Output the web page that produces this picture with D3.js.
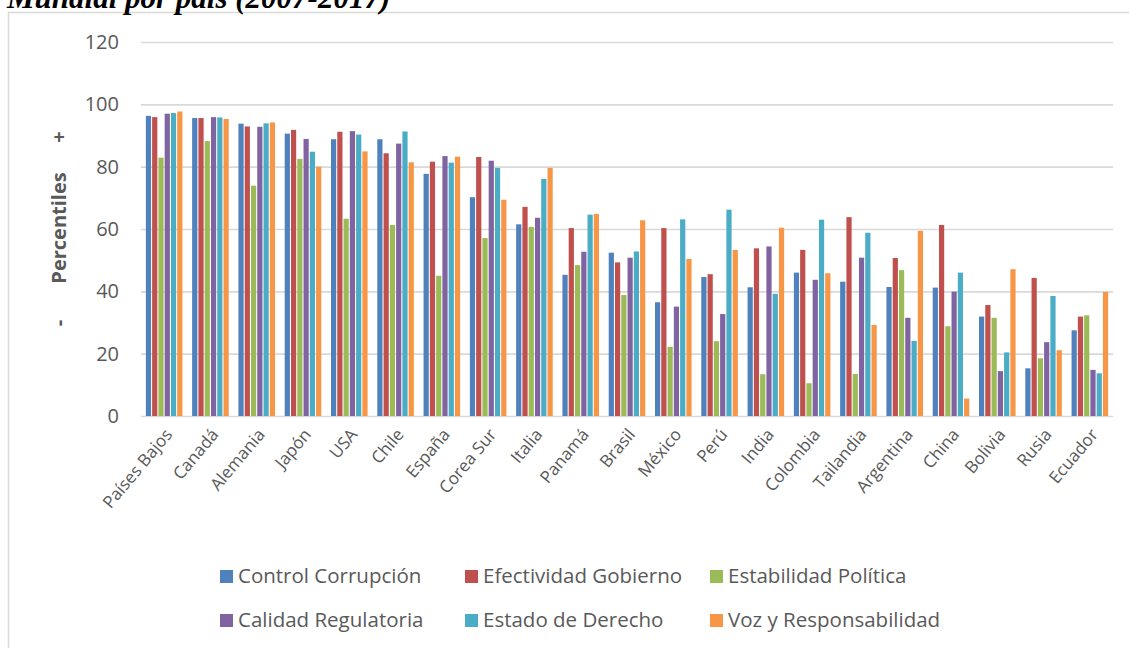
<!DOCTYPE html>
<html>
<head>
<meta charset="utf-8">
<script src="https://cdn.jsdelivr.net/npm/d3@7"></script>
<style>
  html, body { margin: 0; padding: 0; background: #fff; }
  svg { display: block; }
</style>
</head>
<body>
<svg id="chart" width="1129" height="648"></svg>
<script>
// Governance indicators (percentile rank) by country, 2007-2017
const countries = ["Países Bajos", "Canadá", "Alemania", "Japón", "USA", "Chile", "España",
  "Corea Sur", "Italia", "Panamá", "Brasil", "México", "Perú", "India", "Colombia",
  "Tailandia", "Argentina", "China", "Bolivia", "Rusia", "Ecuador"];

const seriesNames = ["Control Corrupción", "Efectividad Gobierno", "Estabilidad Política",
  "Calidad Regulatoria", "Estado de Derecho", "Voz y Responsabilidad"];

const controlCorrupcion   = [96.3, 95.6, 93.8, 90.6, 88.8, 88.8, 77.7, 70.2, 61.5, 45.3, 52.4, 36.5, 44.6, 41.3, 46.0, 43.1, 41.4, 41.2, 31.9, 15.3, 27.5];
const efectividadGobierno = [95.9, 95.6, 92.9, 91.8, 91.2, 84.3, 81.6, 83.1, 67.1, 60.3, 49.3, 60.3, 45.5, 53.8, 53.3, 63.8, 50.7, 61.3, 35.6, 44.3, 31.9];
const estabilidadPolitica = [82.9, 88.2, 73.9, 82.5, 63.3, 61.3, 45.0, 57.1, 60.7, 48.4, 38.8, 22.2, 24.0, 13.4, 10.5, 13.5, 46.8, 28.8, 31.5, 18.5, 32.3];
const calidadRegulatoria  = [97.0, 95.9, 92.8, 88.9, 91.4, 87.4, 83.4, 81.9, 63.6, 52.7, 50.8, 35.1, 32.7, 54.4, 43.7, 50.8, 31.5, 39.9, 14.4, 23.7, 14.8];
const estadoDerecho       = [97.2, 95.8, 93.9, 84.8, 90.3, 91.3, 81.3, 79.6, 76.1, 64.6, 52.8, 63.1, 66.2, 39.2, 63.0, 58.8, 24.1, 46.0, 20.4, 38.5, 13.7];
const vozResponsabilidad  = [97.7, 95.3, 94.2, 80.0, 84.9, 81.4, 83.2, 69.4, 79.6, 64.8, 62.8, 50.4, 53.3, 60.4, 45.8, 29.2, 59.4, 5.6, 47.1, 21.1, 39.8];

const seriesValues = [controlCorrupcion, efectividadGobierno, estabilidadPolitica,
  calidadRegulatoria, estadoDerecho, vozResponsabilidad];
const seriesColors = ["#4F81BD", "#C0504D", "#9BBB59", "#8064A2", "#4BACC6", "#F79646"];
const yTicks = [0, 20, 40, 60, 80, 100, 120];

const svg = d3.select("#chart");
const textColor = "#595959";
const gridColor = "#d9d9d9";
const plot = { left: 141, right: 1113, top: 42, bottom: 416 };

// Frame of the chart area
svg.append("path")
  .attr("d", `M8.5,${648} V12.5 H1129`)
  .attr("fill", "none")
  .attr("stroke", gridColor)
  .attr("stroke-width", 1.5);

// Heading (runs above the top edge of the page)
svg.append("text")
  .attr("x", 7)
  .attr("y", 8)
  .attr("font-family", "'Liberation Serif', serif")
  .attr("font-weight", "bold")
  .attr("font-style", "italic")
  .attr("font-size", 31)
  .attr("fill", "#000")
  .text("Mundial por país (2007-2017)");

const x = d3.scaleBand()
  .domain(countries)
  .range([plot.left, plot.right])
  .paddingInner(0.21)
  .paddingOuter(0.105);

const xInner = d3.scaleBand()
  .domain(seriesNames)
  .range([0, x.bandwidth()])
  .paddingInner(0.17);

const y = d3.scaleLinear()
  .domain([0, 120])
  .range([plot.bottom, plot.top]);

// Horizontal gridlines and value axis labels
const yAxis = d3.axisLeft(y)
  .tickValues(yTicks)
  .tickSize(-(plot.right - plot.left))
  .tickPadding(22);

const yg = svg.append("g")
  .attr("transform", `translate(${plot.left},0)`)
  .call(yAxis);
yg.select(".domain").remove();
yg.selectAll(".tick line")
  .attr("stroke", gridColor)
  .attr("stroke-width", 1.6);
yg.selectAll(".tick text")
  .attr("fill", textColor)
  .attr("font-family", "'Open Sans', sans-serif")
  .attr("font-size", 20);

// Bars
const groups = svg.append("g")
  .selectAll("g")
  .data(countries)
  .join("g")
  .attr("transform", d => `translate(${x(d)},0)`);

groups.selectAll("rect")
  .data((c, i) => seriesNames.map((s, k) => ({ series: s, value: seriesValues[k][i], color: seriesColors[k] })))
  .join("rect")
  .attr("x", d => xInner(d.series))
  .attr("width", xInner.bandwidth())
  .attr("y", d => y(d.value))
  .attr("height", d => y(0) - y(d.value))
  .attr("fill", d => d.color);

// Category labels, rotated
const xAxis = d3.axisBottom(x).tickSize(0).tickPadding(0);
const xg = svg.append("g")
  .attr("transform", `translate(0,${plot.bottom})`)
  .call(xAxis);
xg.select(".domain").remove();
xg.selectAll(".tick text")
  .attr("fill", textColor)
  .attr("font-family", "'Open Sans', sans-serif")
  .attr("font-size", 17)
  .attr("text-anchor", "end")
  .attr("dy", null)
  .attr("y", null)
  .attr("transform", "translate(9,19) rotate(-50)");

// Value axis title
const yTitle = svg.append("g")
  .attr("transform", "translate(66,0) rotate(-90)")
  .attr("font-family", "'Open Sans', sans-serif")
  .attr("font-weight", "bold")
  .attr("font-size", 20)
  .attr("fill", textColor)
  .attr("text-anchor", "middle");
yTitle.append("text").attr("x", -228).text("Percentiles");
yTitle.append("text").attr("x", -137).text("+");
yTitle.append("text").attr("x", -323).text("-");

// Legend
const legendX = [226, 471, 716];
const legendY = [576, 620];
const legend = svg.append("g")
  .selectAll("g")
  .data(seriesNames)
  .join("g")
  .attr("transform", (d, i) => `translate(${legendX[i % 3]},${legendY[Math.floor(i / 3)]})`);
legend.append("rect")
  .attr("x", -6)
  .attr("y", -6)
  .attr("width", 13)
  .attr("height", 13)
  .attr("fill", (d, i) => seriesColors[i]);
legend.append("text")
  .attr("x", 12)
  .attr("y", 0)
  .attr("dy", "0.35em")
  .attr("fill", textColor)
  .attr("font-family", "'Open Sans', sans-serif")
  .attr("font-size", 20.5)
  .text(d => d);
</script>
</body>
</html>
